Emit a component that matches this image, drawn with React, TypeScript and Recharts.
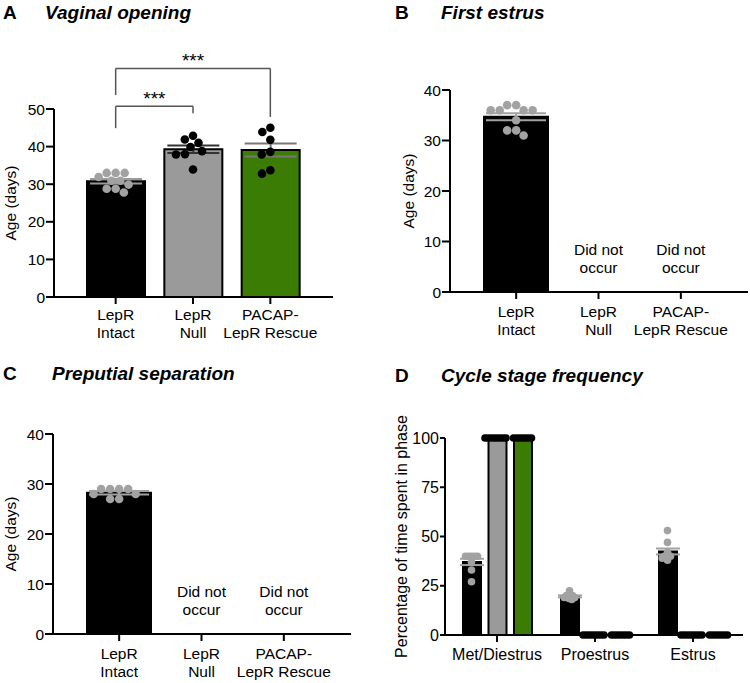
import React from 'react';
import {
  ComposedChart,
  Bar,
  Cell,
  XAxis,
  YAxis,
  Scatter,
  ErrorBar,
  ReferenceLine,
} from 'recharts';

const FONT = '"Liberation Sans", Arial, Helvetica, sans-serif';

// shared groups (panels A-C)
const groups = ['LepR Intact', 'LepR Null', 'PACAP-LepR Rescue'];
const groupTickLines = [['LepR', 'Intact'], ['LepR', 'Null'], ['PACAP-', 'LepR Rescue']];
const notOccurred = ['', 'Did not occur', 'Did not occur'];

// A - vaginal opening, age in days
const voMeans = [30.8, 39.3, 39.1];
const voSems = [0.6, 1.0, 1.7];
const voPoints = [
  [33, 33, 33, 31.9, 30.9, 30.9, 29.9, 28.8, 28.8, 27.8],
  [42.9, 41.9, 41, 39.9, 38.8, 38, 37.9, 33.9],
  [45, 43.9, 41.8, 38.6, 37.9, 33.7, 32.8],
];
const voTicks = [0, 10, 20, 30, 40, 50];
const voBrackets = [
  { from: 'LepR Intact', to: 'LepR Null', top: 50.7, leftEnd: 44.9, rightEnd: 48.9, text: '***' },
  { from: 'LepR Intact', to: 'PACAP-LepR Rescue', top: 60.8, leftEnd: 53.7, rightEnd: 47.9, text: '***' },
];

// B - first estrus
const feMeans = [34.7, 0, 0];
const feSems = [0.7, null, null];
const fePoints = [[37, 37, 36, 36, 36, 36, 34, 32, 32, 31], [], []];

// C - preputial separation
const psMeans = [28.25, 0, 0];
const psSems = [0.33, null, null];
const psPoints = [[29, 29, 29, 29, 28, 28, 27, 27], [], []];

const ageTicks40 = [0, 10, 20, 30, 40];

// D - cycle stage frequency (% of time)
const stages = ['Met/Diestrus', 'Proestrus', 'Estrus'];
const csIntact = [37.1, 19.6, 42.4];
const csIntactSem = [1.6, 0.5, 1.5];
const csNull = [100, 0, 0];
const csRescue = [100, 0, 0];
const csIntactPoints = [
  [40, 40, 40, 40, 40, 37, 33, 27],
  [22.5, 20, 20, 20, 19, 19, 18.5, 18],
  [53, 47, 42, 40, 40, 40, 39, 38],
];
const csNullPoints = [
  [100, 100, 100, 100, 100, 100, 100, 100],
  [0, 0, 0, 0, 0, 0, 0, 0],
  [0, 0, 0, 0, 0, 0, 0, 0],
];
const csRescuePoints = [
  [100, 100, 100, 100, 100, 100, 100],
  [0, 0, 0, 0, 0, 0, 0],
  [0, 0, 0, 0, 0, 0, 0],
];
const pctTicks = [0, 25, 50, 75, 100];

const fills = ['#000000', '#9a9a9a', '#3b7c05'];
const dotGray = '#a2a2a2';

type Geo = { w: number; h: number; top: number; right: number; yw: number; xh: number; padL: number; padR: number };

const GEO_A: Geo = { w: 375, h: 340, top: 109, right: 42, yw: 54, xh: 43, padL: 23, padR: 24 };
const GEO_B: Geo = { w: 375, h: 340, top: 90, right: 2, yw: 75, xh: 48, padL: 25, padR: 26 };
const GEO_C: Geo = { w: 375, h: 343, top: 94, right: 24, yw: 53, xh: 49, padL: 25, padR: 26 };
const GEO_D: Geo = { w: 375, h: 343, top: 98, right: 7, yw: 70, xh: 48, padL: 3, padR: 1 };

const bandOf = (g: Geo, n: number) => (g.w - g.yw - g.right - g.padL - g.padR) / n;
const unitPx = (g: Geo, max: number) => (g.h - g.top - g.xh) / max;

// simple beeswarm: each point goes to the free x offset closest to the centre
function swarm(vals: number[], pxU: number, dc: number) {
  const placed: { x: number; y: number }[] = [];
  return vals.map((v) => {
    const y = v * pxU;
    const blocks: [number, number][] = [];
    placed.forEach((p) => {
      const dy = Math.abs(p.y - y);
      if (dy < dc) {
        const h = Math.sqrt(dc * dc - dy * dy);
        blocks.push([p.x - h, p.x + h]);
      }
    });
    const cands = [0];
    blocks.forEach(([a, b]) => cands.push(a, b));
    const free = cands.filter((c) => blocks.every(([a, b]) => c <= a + 1e-6 || c >= b - 1e-6));
    free.sort((a, b) => Math.abs(a) - Math.abs(b) || a - b);
    const x = free[0];
    placed.push({ x, y });
    return x;
  });
}

function dotsFor(vals: number[], idx: number, shift: number, band: number, pxU: number, dc: number) {
  const offs = swarm(vals, pxU, dc);
  return vals.map((v, k) => ({ x: idx + shift + offs[k] / band, y: v }));
}

const dotShape = (r: number, fill: string) => (p: any) =>
  p.cx == null ? <g /> : <circle cx={p.cx} cy={p.cy} r={r} fill={fill} />;

const axisStyle = { stroke: '#000', strokeWidth: 2 };

const GroupTick = (props: any) => {
  const { x, y, payload, b1, gap, fs } = props;
  const i = groups.indexOf(payload.value);
  const lines = i >= 0 ? groupTickLines[i] : [String(payload.value)];
  return (
    <text x={x} y={y} textAnchor="middle" fontSize={fs} fontFamily={FONT} fill="#000">
      {lines.map((l, k) => (
        <tspan key={k} x={x} dy={k === 0 ? b1 : gap}>
          {l}
        </tspan>
      ))}
    </text>
  );
};

// "Did not occur" note, drawn at the foot of its (empty) group
const noteShape = (above1: number, above2: number, fs: number) => (p: any) => {
  const s = String(p.payload?.note ?? '');
  if (!s || p.cx == null) return <g />;
  const cut = s.lastIndexOf(' ');
  return (
    <text textAnchor="middle" fontSize={fs} fontFamily={FONT} fill="#000">
      <tspan x={p.cx} y={p.cy - above1}>{s.slice(0, cut)}</tspan>
      <tspan x={p.cx} y={p.cy - above2}>{s.slice(cut + 1)}</tspan>
    </text>
  );
};

const yLabel = (value: string, cxOff: number, fs: number) => ({
  value,
  content: (p: any) => {
    const vb = p.viewBox || {};
    const x = Number(vb.x) + cxOff;
    const y = Number(vb.y) + Number(vb.height) / 2;
    return (
      <text
        x={x}
        y={y}
        transform={`rotate(-90 ${x} ${y})`}
        textAnchor="middle"
        dominantBaseline="central"
        fontSize={fs}
        fontFamily={FONT}
        fill="#000"
      >
        {value}
      </text>
    );
  },
});

function VaginalOpening() {
  const g = GEO_A;
  const band = bandOf(g, 3);
  const pxU = unitPx(g, 50);
  const rows = groups.map((name, i) => ({ name, mean: voMeans[i], ['e' + i]: voSems[i] }));
  const errStroke = ['#9a9a9a', '#333333', '#777777'];
  return (
    <ComposedChart width={g.w} height={g.h} data={rows} margin={{ top: g.top, right: g.right, bottom: 0, left: 0 }}>
      <XAxis
        xAxisId="c"
        dataKey="name"
        type="category"
        height={g.xh}
        padding={{ left: g.padL, right: g.padR }}
        axisLine={axisStyle}
        tickLine={axisStyle}
        tickSize={7}
        tickMargin={0}
        interval={0}
        tick={(p: any) => <GroupTick {...p} b1={15.5} gap={18.3} fs={15.5} />}
      />
      <XAxis xAxisId="n" dataKey="x" type="number" domain={[-0.5, 2.5]} padding={{ left: g.padL, right: g.padR }} hide />
      <YAxis
        width={g.yw}
        domain={[0, 50]}
        ticks={voTicks}
        interval={0}
        axisLine={axisStyle}
        tickLine={axisStyle}
        tickSize={8}
        tickMargin={1}
        tick={{ fontSize: 15.5, fill: '#000', fontFamily: FONT }}
        label={yLabel('Age (days)', 10, 15.5)}
      />
      <Bar xAxisId="c" dataKey="mean" barSize={58} stroke="#000" strokeWidth={2} isAnimationActive={false}>
        {rows.map((r, i) => (
          <Cell key={r.name} fill={fills[i]} />
        ))}
        {groups.map((_, i) => (
          <ErrorBar key={i} dataKey={'e' + i} width={26} stroke={errStroke[i]} strokeWidth={2} direction="y" />
        ))}
      </Bar>
      {voPoints.map((vals, i) => (
        <Scatter
          key={i}
          xAxisId="n"
          dataKey="y"
          data={dotsFor(vals, i, 0, band, pxU, 9)}
          shape={dotShape(4.3, i === 0 ? dotGray : '#000')}
          isAnimationActive={false}
        />
      ))}
      {voBrackets.map((b, i) => (
        <ReferenceLine
          key={'h' + i}
          xAxisId="c"
          ifOverflow="visible"
          stroke="#555"
          strokeWidth={1.5}
          segment={[{ x: b.from, y: b.top }, { x: b.to, y: b.top }]}
          label={{ value: b.text, position: 'top', offset: 1, fontSize: 19, fill: '#000', fontFamily: FONT }}
        />
      ))}
      {voBrackets.map((b, i) => (
        <ReferenceLine
          key={'l' + i}
          xAxisId="c"
          ifOverflow="visible"
          stroke="#555"
          strokeWidth={1.5}
          segment={[{ x: b.from, y: b.top }, { x: b.from, y: b.leftEnd }]}
        />
      ))}
      {voBrackets.map((b, i) => (
        <ReferenceLine
          key={'r' + i}
          xAxisId="c"
          ifOverflow="visible"
          stroke="#555"
          strokeWidth={1.5}
          segment={[{ x: b.to, y: b.top }, { x: b.to, y: b.rightEnd }]}
        />
      ))}
    </ComposedChart>
  );
}

function OnsetPanel({ g, means, sems, points, labelOffset, tickB1 }: any) {
  const band = bandOf(g, 3);
  const pxU = unitPx(g, 40);
  const rows = groups.map((name, i) => ({ name, mean: means[i], sem: sems[i] }));
  const notes = notOccurred.map((note, i) => ({ x: i, y: 0, note })).filter((d) => d.note);
  return (
    <ComposedChart width={g.w} height={g.h} data={rows} margin={{ top: g.top, right: g.right, bottom: 0, left: 0 }}>
      <XAxis
        xAxisId="c"
        dataKey="name"
        type="category"
        height={g.xh}
        padding={{ left: g.padL, right: g.padR }}
        axisLine={axisStyle}
        tickLine={axisStyle}
        tickSize={7}
        tickMargin={0}
        interval={0}
        tick={(p: any) => <GroupTick {...p} b1={tickB1} gap={18.3} fs={15.5} />}
      />
      <XAxis xAxisId="n" dataKey="x" type="number" domain={[-0.5, 2.5]} padding={{ left: g.padL, right: g.padR }} hide />
      <YAxis
        width={g.yw}
        domain={[0, 40]}
        ticks={ageTicks40}
        interval={0}
        axisLine={axisStyle}
        tickLine={axisStyle}
        tickSize={8}
        tickMargin={1}
        tick={{ fontSize: 15.5, fill: '#000', fontFamily: FONT }}
        label={yLabel('Age (days)', labelOffset, 15.5)}
      />
      <Bar xAxisId="c" dataKey="mean" barSize={64} fill="#000" stroke="#000" strokeWidth={2} isAnimationActive={false}>
        <ErrorBar dataKey="sem" width={30} stroke={dotGray} strokeWidth={2} direction="y" />
      </Bar>
      {points.map((vals: number[], i: number) =>
        vals.length ? (
          <Scatter
            key={i}
            xAxisId="n"
            dataKey="y"
            data={dotsFor(vals, i, 0, band, pxU, 9)}
            shape={dotShape(4.3, dotGray)}
            isAnimationActive={false}
          />
        ) : null
      )}
      <Scatter xAxisId="n" dataKey="y" data={notes} shape={noteShape(37, 19.5, 15.5)} isAnimationActive={false} />
    </ComposedChart>
  );
}

const D_BAR = 18;
const D_GAP = 7.5;

const StageTick = (p: any) => (
  <text x={p.x} y={p.y} dy={18} textAnchor="middle" fontSize={16} fontFamily={FONT} fill="#000">
    {p.payload.value}
  </text>
);

function CycleStages() {
  const g = GEO_D;
  const band = bandOf(g, 3);
  const pxU = unitPx(g, 100);
  const rows = stages.map((name, i) => ({
    name,
    intact: csIntact[i],
    sem: csIntactSem[i],
    nul: csNull[i],
    rescue: csRescue[i],
  }));
  const step = (D_BAR + D_GAP) / band;
  const series = [
    { pts: csIntactPoints, shift: -step, color: dotGray },
    { pts: csNullPoints, shift: 0, color: '#000' },
    { pts: csRescuePoints, shift: step, color: '#000' },
  ];
  return (
    <ComposedChart
      width={g.w}
      height={g.h}
      data={rows}
      margin={{ top: g.top, right: g.right, bottom: 0, left: 0 }}
      barGap={D_GAP}
    >
      <XAxis
        xAxisId="c"
        dataKey="name"
        type="category"
        height={g.xh}
        padding={{ left: g.padL, right: g.padR }}
        axisLine={axisStyle}
        tickLine={axisStyle}
        tickSize={7}
        tickMargin={0}
        interval={0}
        tick={StageTick}
      />
      <XAxis xAxisId="n" dataKey="x" type="number" domain={[-0.5, 2.5]} padding={{ left: g.padL, right: g.padR }} hide />
      <YAxis
        width={g.yw}
        domain={[0, 100]}
        ticks={pctTicks}
        interval={0}
        axisLine={axisStyle}
        tickLine={axisStyle}
        tickSize={5}
        tickMargin={1}
        tick={{ fontSize: 16, fill: '#000', fontFamily: FONT }}
        label={yLabel('Percentage of time spent in phase', 26, 16)}
      />
      <Bar xAxisId="c" dataKey="intact" barSize={D_BAR} fill={fills[0]} stroke="#000" strokeWidth={2} isAnimationActive={false}>
        <ErrorBar dataKey="sem" width={12} stroke={dotGray} strokeWidth={2} direction="y" />
      </Bar>
      <Bar xAxisId="c" dataKey="nul" barSize={D_BAR} fill={fills[1]} stroke="#000" strokeWidth={2} isAnimationActive={false} />
      <Bar xAxisId="c" dataKey="rescue" barSize={D_BAR} fill={fills[2]} stroke="#000" strokeWidth={2} isAnimationActive={false} />
      {series.flatMap((s, si) =>
        s.pts.map((vals, i) => (
          <Scatter
            key={si + '-' + i}
            xAxisId="n"
            dataKey="y"
            data={dotsFor(vals, i, s.shift, band, pxU, 3)}
            shape={dotShape(3.8, s.color)}
            isAnimationActive={false}
          />
        ))
      )}
    </ComposedChart>
  );
}

const Title = ({ left, top, letter, text, textLeft }: any) => (
  <>
    <div style={{ position: 'absolute', left, top, fontSize: 19, lineHeight: '19px', fontWeight: 700 }}>{letter}</div>
    <div
      style={{
        position: 'absolute',
        left: textLeft,
        top,
        fontSize: 19,
        lineHeight: '19px',
        fontWeight: 700,
        fontStyle: 'italic',
        whiteSpace: 'nowrap',
      }}
    >
      {text}
    </div>
  </>
);

export default function App() {
  return (
    <div style={{ position: 'relative', width: 750, height: 683, background: '#fff', fontFamily: FONT, color: '#000' }}>
      <style>{'body{margin:0}'}</style>
      <div style={{ position: 'absolute', left: 0, top: 0 }}>
        <VaginalOpening />
      </div>
      <div style={{ position: 'absolute', left: 375, top: 0 }}>
        <OnsetPanel g={GEO_B} means={feMeans} sems={feSems} points={fePoints} labelOffset={33} tickB1={18} />
      </div>
      <div style={{ position: 'absolute', left: 0, top: 340 }}>
        <OnsetPanel g={GEO_C} means={psMeans} sems={psSems} points={psPoints} labelOffset={10} tickB1={18} />
      </div>
      <div style={{ position: 'absolute', left: 375, top: 340 }}>
        <CycleStages />
      </div>
      <Title left={3} top={2.5} letter="A" text="Vaginal opening" textLeft={45} />
      <Title left={395} top={3} letter="B" text="First estrus" textLeft={441} />
      <Title left={3} top={364} letter="C" text="Preputial separation" textLeft={52} />
      <Title left={395} top={365.5} letter="D" text="Cycle stage frequency" textLeft={441} />
    </div>
  );
}
